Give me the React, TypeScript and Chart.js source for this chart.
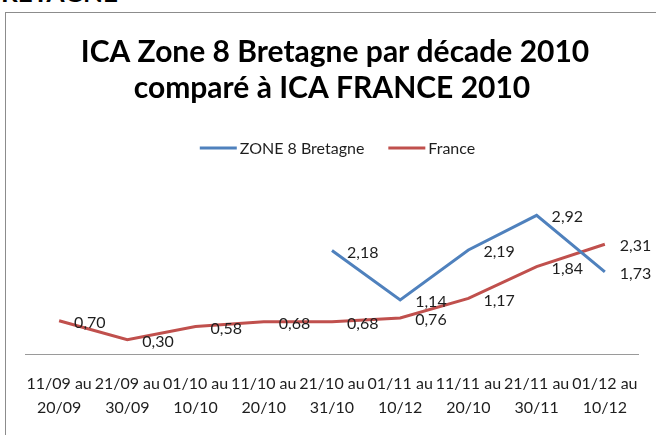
import React, { useEffect, useRef } from "react";
import { Chart, registerables } from "chart.js";

Chart.register(...registerables);

const categories: string[][] = [
  ["11/09 au", "20/09"],
  ["21/09 au", "30/09"],
  ["01/10 au", "10/10"],
  ["11/10 au", "20/10"],
  ["21/10 au", "31/10"],
  ["01/11 au", "10/12"],
  ["11/11 au", "20/10"],
  ["21/11 au", "30/11"],
  ["01/12 au", "10/12"],
];

const zone8Values: (number | null)[] = [null, null, null, null, 2.18, 1.14, 2.19, 2.92, 1.73];
const franceValues: (number | null)[] = [0.7, 0.3, 0.58, 0.68, 0.68, 0.76, 1.17, 1.84, 2.31];

const seriesNames = ["ZONE 8 Bretagne", "France"];
const titleLines = ["ICA Zone 8 Bretagne par décade 2010", "comparé à ICA FRANCE 2010"];

const FONT = "Lato, 'Open Sans', sans-serif";
const BLUE = "#4F81BD";
const RED = "#C0504D";

const decorPlugin = {
  id: "decor",
  afterDatasetsDraw(chart: any) {
    const ctx = chart.ctx;
    ctx.save();
    ctx.font = `16px ${FONT}`;
    ctx.fillStyle = "#1e1e1e";
    ctx.textAlign = "left";
    ctx.textBaseline = "middle";
    chart.data.datasets.forEach((ds: any, di: number) => {
      const meta = chart.getDatasetMeta(di);
      meta.data.forEach((pt: any, i: number) => {
        const v = ds.data[i];
        if (v === null || v === undefined) return;
        ctx.fillText(v.toFixed(2).replace(".", ","), pt.x + 15, pt.y + 2);
      });
    });
    ctx.restore();
  },
  afterDraw(chart: any) {
    const ctx = chart.ctx;
    ctx.save();
    // title
    ctx.fillStyle = "#000";
    ctx.font = `bold 30px ${FONT}`;
    ctx.textAlign = "center";
    ctx.textBaseline = "alphabetic";
    ctx.fillText(titleLines[0], 335, 62);
    ctx.fillText(titleLines[1], 332, 98);
    // legend
    ctx.font = `16px ${FONT}`;
    ctx.textAlign = "left";
    ctx.textBaseline = "middle";
    const lineLen = 37;
    const gap = 3;
    const itemGap = 24;
    const items = chart.data.datasets.map((ds: any) => ({
      label: ds.label,
      color: ds.borderColor,
      w: ctx.measureText(ds.label).width,
    }));
    let total = 0;
    items.forEach((it: any, i: number) => {
      total += lineLen + gap + it.w + (i < items.length - 1 ? itemGap : 0);
    });
    let x = 337.5 - total / 2;
    const y = 148;
    items.forEach((it: any) => {
      ctx.strokeStyle = it.color;
      ctx.lineWidth = 3;
      ctx.beginPath();
      ctx.moveTo(x, y);
      ctx.lineTo(x + lineLen, y);
      ctx.stroke();
      ctx.fillStyle = "#1e1e1e";
      ctx.fillText(it.label, x + lineLen + gap, y + 1);
      x += lineLen + gap + it.w + itemGap;
    });
    ctx.restore();
  },
};

export default function App() {
  const canvasRef = useRef<HTMLCanvasElement | null>(null);

  useEffect(() => {
    if (!canvasRef.current) return;
    const chart = new Chart(canvasRef.current, {
      type: "line",
      data: {
        labels: categories,
        datasets: [
          {
            label: seriesNames[0],
            data: zone8Values,
            borderColor: BLUE,
            backgroundColor: BLUE,
            borderWidth: 3,
            pointRadius: 0,
            tension: 0,
            spanGaps: false,
          },
          {
            label: seriesNames[1],
            data: franceValues,
            borderColor: RED,
            backgroundColor: RED,
            borderWidth: 3,
            pointRadius: 0,
            tension: 0,
          },
        ],
      },
      options: {
        responsive: false,
        animation: false,
        layout: { padding: { top: 211.5, left: 25, right: 9, bottom: 0 } },
        plugins: {
          legend: { display: false },
          title: { display: false },
          tooltip: { enabled: false },
        },
        scales: {
          x: {
            offset: true,
            grid: { display: false, drawTicks: false },
            border: { display: true, color: "#9a9a9a", width: 1 },
            ticks: {
              autoSkip: false,
              maxRotation: 0,
              minRotation: 0,
              padding: 18,
              color: "#1e1e1e",
              font: { family: FONT, size: 16, lineHeight: 1.5 },
            },
            afterFit: (scale: any) => {
              scale.height = 81;
            },
          },
          y: {
            display: false,
            min: 0,
            max: 3,
          },
        },
      },
      plugins: [decorPlugin],
    });
    return () => chart.destroy();
  }, []);

  return (
    <div
      style={{
        position: "fixed",
        left: 0,
        top: 0,
        width: 656,
        height: 435,
        overflow: "hidden",
        background: "#fff",
      }}
    >
      <div
        style={{
          position: "absolute",
          left: -16,
          top: -21,
          fontFamily: FONT,
          fontWeight: "bold",
          fontSize: 26,
          lineHeight: "26px",
          color: "#000",
          whiteSpace: "nowrap",
        }}
      >
        BRETAGNE
      </div>
      <div
        style={{
          position: "absolute",
          left: 5,
          top: 12,
          width: 700,
          height: 500,
          border: "1px solid #8c8c8c",
          boxSizing: "border-box",
        }}
      />
      <canvas
        ref={canvasRef}
        width={656}
        height={435}
        style={{ position: "absolute", left: 0, top: 0, width: 656, height: 435 }}
      />
    </div>
  );
}
